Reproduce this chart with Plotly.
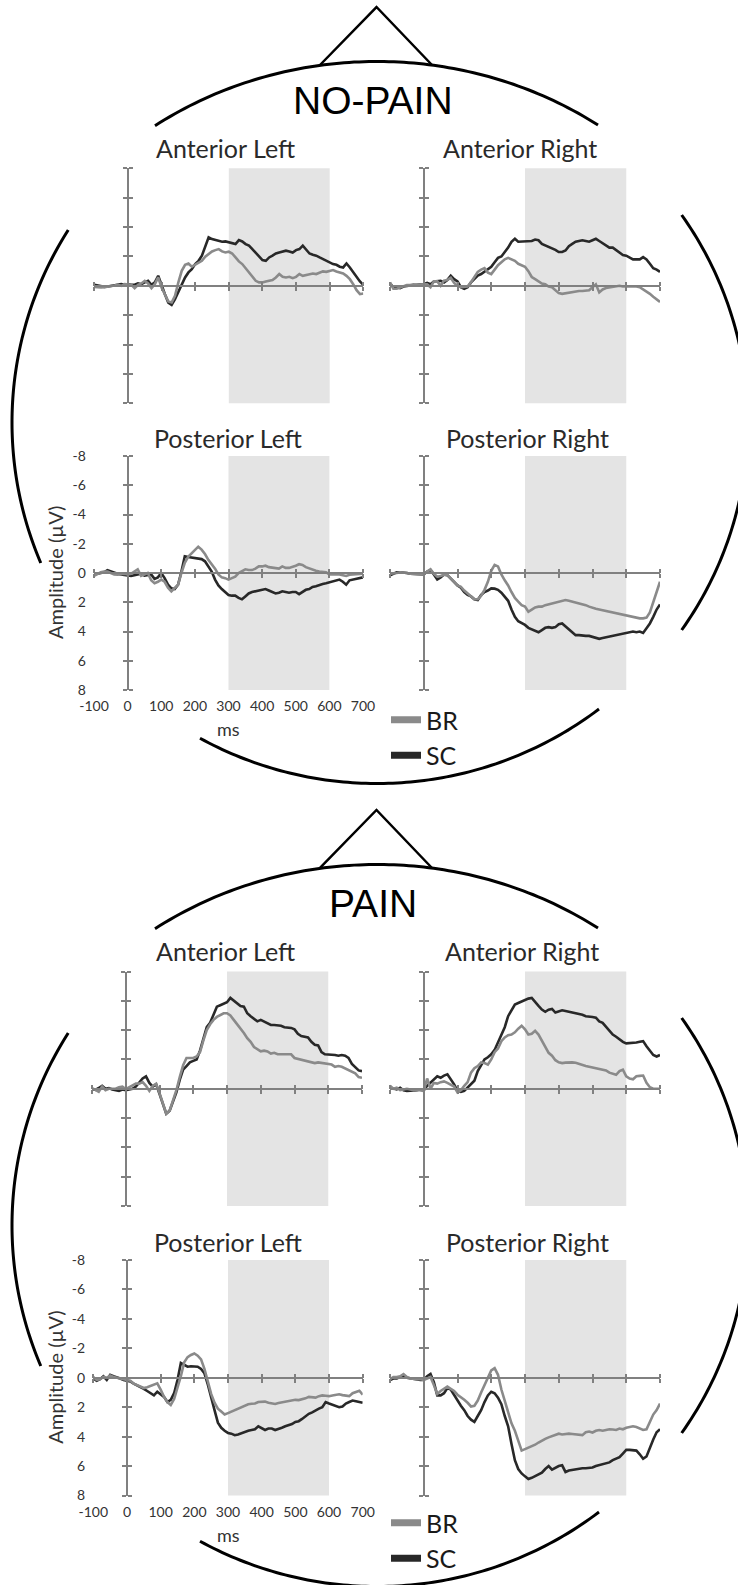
import numpy as np
import plotly.graph_objects as go

W, H = 738, 1585

# ---------------- data ----------------
T = list(range(-100, 701, 10))  # ms

X_TICKS = [-100, 0, 100, 200, 300, 400, 500, 600, 700]
X_TICKTEXT = ["-100", "0", "100", "200", "300", "400", "500", "600", "700"]
Y_TICKS = [-8, -6, -4, -2, 0, 2, 4, 6, 8]
Y_TICKTEXT = ["-8", "-6", "-4", "-2", "0", "2", "4", "6", "8"]
WINDOW = [300, 600]
SERIES = ["BR", "SC"]
CONDITIONS = ["NO-PAIN", "PAIN"]
REGIONS = ["Anterior Left", "Anterior Right", "Posterior Left", "Posterior Right"]

NP_AL_SC = [-0.07,-0.02,0.05,0.07,0.05,0.02,-0.02,-0.07,-0.11,-0.07,
            -0.11,-0.07,-0.07,-0.16,-0.11,-0.23,-0.34,-0.07,-0.23,-0.68,
            0.0,0.57,1.14,1.3,0.91,0.39,-0.11,-0.57,-0.91,-1.14,
            -1.48,-1.7,-2.05,-2.73,-3.3,-3.18,-3.11,-3.07,-3.0,-3.02,
            -2.95,-2.93,-2.84,-3.11,-3.02,-2.84,-2.73,-2.5,-2.27,-1.98,
            -1.75,-1.7,-1.93,-2.05,-2.2,-2.27,-2.34,-2.39,-2.34,-2.27,
            -2.43,-2.5,-2.73,-2.5,-2.2,-2.11,-2.05,-1.93,-1.82,-1.7,
            -1.59,-1.48,-1.43,-1.3,-1.25,-1.52,-1.25,-0.91,-0.57,-0.3,
            -0.07]
NP_AL_BR = [0.07,0.11,0.11,0.09,0.07,0.02,-0.02,-0.07,0.0,-0.11,
            -0.07,-0.07,0.16,-0.07,-0.16,-0.34,-0.16,0.16,-0.11,-0.57,
            0.11,0.61,1.07,1.14,0.68,-0.23,-1.02,-1.43,-1.52,-1.3,
            -1.43,-1.59,-1.7,-1.98,-2.16,-2.34,-2.43,-2.5,-2.34,-2.27,
            -2.32,-2.2,-1.93,-1.66,-1.48,-1.2,-0.91,-0.57,-0.34,-0.23,
            -0.23,-0.3,-0.34,-0.39,-0.57,-0.8,-0.61,-0.57,-0.61,-0.52,
            -0.61,-0.8,-0.68,-0.75,-0.8,-0.84,-0.8,-0.91,-0.98,-0.95,
            -1.02,-1.07,-0.98,-0.91,-0.84,-0.68,-0.45,-0.11,0.3,0.57,
            0.52]
NP_AR_SC = [-0.16,0.1,0.1,0.16,0.05,0.0,-0.05,-0.05,-0.07,-0.1,
            -0.11,-0.2,-0.11,-0.3,-0.3,-0.34,-0.23,-0.4,-0.68,-0.45,
            -0.3,0.1,0.2,0.1,-0.23,-0.5,-0.7,-0.8,-0.95,-1.1,
            -1.3,-1.6,-1.9,-2.0,-2.3,-2.6,-3.0,-3.2,-3.0,-3.0,
            -3.0,-3.0,-3.05,-3.15,-3.1,-2.85,-2.75,-2.7,-2.55,-2.45,
            -2.3,-2.3,-2.4,-2.7,-2.85,-3.0,-3.05,-3.1,-3.05,-3.0,
            -3.1,-3.2,-3.05,-2.9,-2.7,-2.6,-2.6,-2.45,-2.3,-2.1,
            -2.05,-1.9,-1.8,-1.8,-1.8,-1.95,-1.8,-1.5,-1.2,-1.1,
            -0.95]
NP_AR_BR = [-0.23,0.2,0.2,0.1,0.0,-0.05,-0.05,-0.1,-0.05,-0.1,
            -0.1,-0.1,0.1,-0.3,-0.3,0.0,-0.35,-0.4,-0.55,-0.2,
            0.0,0.1,0.1,0.05,-0.25,-0.6,-0.95,-1.1,-1.2,-0.9,
            -0.8,-1.1,-1.4,-1.6,-1.8,-1.9,-1.8,-1.7,-1.5,-1.4,
            -1.3,-1.0,-0.6,-0.45,-0.3,-0.15,-0.1,0.05,0.1,0.3,
            0.5,0.55,0.5,0.45,0.4,0.4,0.35,0.35,0.3,0.3,
            0.1,-0.1,0.45,0.25,0.15,0.1,0.1,0.0,0.0,0.05,
            0.05,0.0,0.0,0.05,0.1,0.25,0.35,0.55,0.75,0.9,
            1.1]
NP_PL_SC = [0.1,0.05,0.0,-0.05,-0.2,-0.1,0.0,0.05,0.1,0.15,
            0.18,0.2,0.15,0.1,0.05,0.18,0.12,0.1,0.4,0.3,
            0.0,0.35,0.8,1.05,1.1,0.8,-0.1,-1.15,-1.1,-1.05,
            -1.05,-1.0,-0.95,-0.8,-0.4,-0.1,0.45,0.85,1.1,1.3,
            1.5,1.55,1.55,1.7,1.8,1.6,1.4,1.3,1.25,1.2,
            1.1,1.1,1.2,1.3,1.4,1.35,1.25,1.3,1.35,1.3,
            1.3,1.45,1.3,1.15,1.1,0.95,0.9,0.8,0.75,0.7,
            0.65,0.6,0.55,0.45,0.6,0.8,0.5,0.45,0.4,0.35,
            0.3]
NP_PL_BR = [0.2,0.05,-0.05,-0.1,-0.1,0.0,0.1,0.12,0.1,0.05,
            0.1,0.05,-0.1,-0.25,0.2,0.1,0.0,0.5,0.7,0.6,
            0.45,0.6,1.0,1.25,1.05,0.8,0.0,-0.7,-1.1,-1.35,
            -1.6,-1.8,-1.6,-1.3,-0.9,-0.6,-0.3,0.1,0.3,0.35,
            0.45,0.35,0.25,0.0,-0.15,-0.25,-0.2,-0.2,-0.3,-0.45,
            -0.45,-0.5,-0.4,-0.35,-0.3,-0.3,-0.45,-0.35,-0.35,-0.4,
            -0.5,-0.6,-0.55,-0.4,-0.3,-0.25,-0.15,-0.1,-0.05,-0.05,
            0.1,0.1,0.05,0.1,0.15,0.2,0.12,0.1,0.1,0.1,
            0.05]
NP_PR_SC = [0.15,0.05,-0.05,-0.05,-0.05,0.0,0.05,0.05,0.1,0.1,
            0.1,-0.1,-0.2,0.1,0.45,0.3,0.1,0.15,0.4,0.6,
            0.85,1.0,1.3,1.5,1.6,1.8,1.85,1.5,1.3,1.2,
            1.05,1.07,1.15,1.35,1.6,1.9,2.5,3.0,3.3,3.4,
            3.55,3.75,3.85,3.95,4.05,3.9,3.75,3.7,3.75,3.7,
            3.5,3.45,3.65,3.9,4.1,4.25,4.25,4.3,4.3,4.3,
            4.35,4.45,4.5,4.45,4.4,4.35,4.3,4.3,4.25,4.2,
            4.1,4.05,4.0,4.05,4.0,4.1,3.8,3.45,3.0,2.5,
            2.15]
NP_PR_BR = [0.05,0.05,0.0,-0.05,-0.05,0.0,0.05,0.07,0.1,0.1,
            0.1,-0.1,-0.25,0.05,0.25,0.2,0.12,0.15,0.35,0.6,
            0.85,0.95,1.2,1.4,1.55,1.8,1.8,1.55,1.15,0.6,
            -0.15,-0.55,-0.45,0.1,0.5,0.85,1.3,1.7,1.95,2.2,
            2.3,2.65,2.5,2.35,2.3,2.3,2.2,2.15,2.05,2.0,
            1.95,1.9,1.85,1.9,1.95,2.0,2.05,2.1,2.2,2.3,
            2.4,2.45,2.5,2.55,2.65,2.7,2.75,2.75,2.85,2.9,
            2.95,3.0,3.05,3.05,3.1,3.1,3.05,2.7,2.0,1.3,
            0.6]
P_AL_SC = [0.02,0.07,-0.05,-0.2,0.0,-0.05,0.05,0.1,0.15,0.05,
           0.1,0.05,0.0,-0.15,-0.45,-0.7,-0.85,-0.4,-0.15,-0.3,
           0.35,1.0,1.7,1.5,0.85,0.25,-0.6,-1.3,-1.55,-1.8,
           -1.9,-2.0,-2.6,-3.4,-4.2,-4.5,-5.1,-5.6,-5.7,-5.8,
           -5.9,-6.2,-6.0,-5.8,-5.65,-5.6,-5.15,-4.95,-4.8,-4.6,
           -4.7,-4.6,-4.45,-4.35,-4.35,-4.35,-4.3,-4.2,-4.2,-4.15,
           -4.05,-3.75,-3.6,-3.55,-3.5,-3.2,-3.0,-2.95,-2.5,-2.35,
           -2.35,-2.35,-2.3,-2.25,-2.3,-2.25,-2.1,-1.7,-1.5,-1.25,
           -1.2]
P_AL_BR = [-0.05,0.1,0.2,-0.15,0.1,0.0,0.02,0.0,-0.1,-0.15,
           0.02,-0.1,-0.2,-0.35,-0.35,-0.45,-0.2,0.15,-0.2,-0.35,
           0.3,1.0,1.7,1.5,0.85,0.1,-0.8,-1.6,-2.1,-2.1,
           -2.1,-2.2,-2.5,-3.3,-4.0,-4.4,-4.7,-4.9,-5.0,-5.15,
           -5.15,-5.0,-4.7,-4.4,-4.15,-3.8,-3.45,-3.2,-2.85,-2.7,
           -2.55,-2.6,-2.55,-2.4,-2.45,-2.35,-2.35,-2.3,-2.35,-2.35,
           -2.1,-2.05,-2.0,-1.95,-1.9,-1.85,-1.75,-1.8,-1.75,-1.75,
           -1.65,-1.65,-1.5,-1.55,-1.5,-1.4,-1.3,-1.2,-1.05,-0.8,
           -0.75]
P_AR_SC = [-0.07,0.0,0.05,-0.07,0.1,0.15,0.15,0.1,0.1,0.05,
           0.1,-0.2,-0.4,-0.6,-0.85,-0.75,-0.9,-0.98,-0.68,-0.3,
           0.15,0.22,0.15,-0.1,-0.3,-0.55,-1.2,-1.6,-2.0,-2.15,
           -2.35,-2.65,-3.15,-3.7,-4.2,-4.95,-5.4,-5.75,-5.85,-5.95,
           -6.1,-6.15,-6.2,-5.9,-5.65,-5.4,-5.25,-5.4,-5.45,-5.2,
           -5.25,-5.35,-5.3,-5.25,-5.25,-5.2,-5.15,-5.05,-4.95,-4.95,
           -4.9,-4.85,-4.6,-4.5,-4.25,-3.95,-3.7,-3.55,-3.35,-3.2,
           -3.1,-3.1,-3.15,-3.15,-3.2,-3.25,-2.9,-2.6,-2.3,-2.2,
           -2.3]
P_AR_BR = [-0.2,0.0,-0.07,0.1,0.05,0.0,0.05,0.1,0.07,0.1,
           0.15,-0.7,0.0,-0.4,-0.35,-0.45,-0.5,-0.4,-0.3,-0.15,
           0.25,0.1,-0.2,-0.45,-1.1,-1.4,-1.55,-1.8,-1.75,-1.65,
           -2.0,-2.5,-2.75,-3.25,-3.5,-3.65,-3.7,-3.85,-4.1,-4.3,
           -4.05,-3.7,-3.75,-3.95,-3.7,-3.25,-2.8,-2.45,-2.25,-1.95,
           -1.8,-1.75,-1.78,-1.8,-1.8,-1.78,-1.7,-1.6,-1.55,-1.5,
           -1.45,-1.4,-1.38,-1.35,-1.25,-1.1,-1.05,-0.95,-1.2,-1.3,
           -0.85,-0.7,-0.65,-0.85,-0.88,-0.9,-0.4,-0.1,0.0,0.0,
           0.0]
P_PL_SC = [0.05,0.2,0.1,-0.1,0.15,-0.2,-0.1,-0.05,0.05,0.15,
           0.2,0.25,0.4,0.5,0.6,0.75,0.9,1.05,1.2,0.95,
           1.1,1.3,1.65,1.5,1.05,0.15,-1.0,-0.85,-0.75,-0.78,
           -0.75,-0.75,-0.6,-0.3,0.45,1.4,2.2,3.05,3.4,3.6,
           3.75,3.8,3.9,3.85,3.75,3.65,3.6,3.55,3.5,3.3,
           3.45,3.55,3.45,3.45,3.55,3.5,3.4,3.3,3.25,3.15,
           3.0,2.95,2.8,2.6,2.45,2.35,2.2,2.1,2.0,1.65,
           1.75,1.85,1.95,2.0,1.95,1.75,1.65,1.55,1.6,1.65,
           1.7]
P_PL_BR = [-0.05,0.15,0.1,-0.05,0.0,-0.15,-0.05,0.0,0.05,0.1,
           0.15,0.2,0.4,0.5,0.65,0.7,0.65,0.55,0.45,0.38,
           0.8,1.3,1.65,1.85,1.45,0.7,-0.1,-1.05,-1.4,-1.55,
           -1.65,-1.5,-1.25,-0.6,0.35,1.1,1.7,2.1,2.3,2.5,
           2.4,2.3,2.2,2.05,1.95,1.85,1.8,1.77,1.75,1.65,
           1.62,1.62,1.7,1.75,1.78,1.72,1.68,1.65,1.6,1.52,
           1.5,1.52,1.48,1.4,1.3,1.33,1.35,1.25,1.2,1.22,
           1.25,1.2,1.18,1.12,1.18,1.2,1.25,1.05,0.95,0.88,
           1.15]
P_PR_SC = [0.15,0.05,0.05,-0.05,-0.15,0.0,0.05,0.1,0.1,0.15,
           0.15,-0.1,-0.25,0.3,1.2,1.2,1.05,0.7,0.8,1.2,
           1.6,1.9,2.2,2.6,2.85,3.0,2.6,2.2,1.65,1.2,
           0.95,1.05,1.35,1.8,2.6,3.3,4.5,5.6,6.2,6.5,
           6.7,6.88,6.8,6.7,6.55,6.45,6.2,6.0,6.25,6.1,
           6.0,5.95,6.4,6.3,6.25,6.23,6.2,6.15,6.15,6.12,
           6.1,6.0,5.95,5.9,5.85,5.75,5.6,5.5,5.4,5.15,
           4.9,4.9,4.9,4.95,5.2,5.5,5.35,4.7,4.2,3.7,
           3.5]
P_PR_BR = [0.1,-0.05,-0.05,-0.1,-0.25,-0.05,0.05,0.1,0.1,0.1,
           0.15,0.05,-0.05,0.5,1.1,0.9,0.75,0.6,0.75,0.9,
           1.15,1.3,1.5,1.7,1.95,1.9,1.55,1.0,0.5,0.0,
           -0.5,-0.65,-0.2,0.8,1.55,2.25,3.1,3.6,4.25,4.95,
           4.85,4.75,4.7,4.55,4.4,4.25,4.15,4.05,3.95,3.85,
           3.8,3.85,3.8,3.8,3.82,3.85,3.88,3.9,3.7,3.65,
           3.72,3.6,3.55,3.6,3.55,3.5,3.52,3.55,3.45,3.5,
           3.4,3.35,3.3,3.35,3.45,3.55,3.5,3.05,2.5,2.2,
           1.75]

# ---------------- layout geometry (pixels) ----------------
HEAD_DY = 803.0
GRAY_AX = "#808080"
COL = {"BR": "#8a8a8a", "SC": "#282828"}
TITLE_FONT = dict(family="Lato", size=25, color="#2a2a2a")
TICK_FONT = dict(family="Lato", size=14, color="#333333")
XTICK_FONT = dict(family="Lato", size=14, color="#333333")


def px(x):
    return x / W


def py(y):
    return 1 - y / H


def ax_id(letter, n):
    return letter if n == 1 else f"{letter}{n}"


# (condition index, region, BR, SC, x-span px, y-span px, title centre px)
panels = [
    (0, "Anterior Left", NP_AL_BR, NP_AL_SC, (94.3, 363.3), (168.3, 403.3), (225.5, 148)),
    (0, "Anterior Right", NP_AR_BR, NP_AR_SC, (390.0, 660.0), (168.3, 403.3), (520.0, 148)),
    (0, "Posterior Left", NP_PL_BR, NP_PL_SC, (94.0, 363.0), (456.0, 690.0), (228.0, 438)),
    (0, "Posterior Right", NP_PR_BR, NP_PR_SC, (390.0, 660.0), (456.0, 690.0), (527.0, 438)),
    (1, "Anterior Left", P_AL_BR, P_AL_SC, (92.0, 362.0), (971.5, 1206.0), (225.0, 951)),
    (1, "Anterior Right", P_AR_BR, P_AR_SC, (390.0, 660.0), (971.5, 1206.0), (522.0, 951)),
    (1, "Posterior Left", P_PL_BR, P_PL_SC, (93.3, 362.7), (1260.0, 1495.5), (228.0, 1242)),
    (1, "Posterior Right", P_PR_BR, P_PR_SC, (390.0, 660.0), (1260.0, 1495.5), (527.0, 1242)),
]

fig = go.Figure()
layout_axes = {}
shapes = []
annotations = []

for i, (cond, region, br, sc, (x0, x1), (y0, y1), (tx, ty)) in enumerate(panels):
    a = 2 * i + 1
    b = 2 * i + 2
    xa, ya = ax_id("x", a), ax_id("y", a)
    xb, yb = ax_id("x", b), ax_id("y", b)
    kxa = "xaxis" if a == 1 else f"xaxis{a}"
    kya = "yaxis" if a == 1 else f"yaxis{a}"
    xdom = [px(x0), px(x1)]
    ydom = [py(y1), py(y0)]
    zero_y = py((y0 + y1) / 2)                 # y = 0 line
    zero_x = px(x0 + (x1 - x0) * 100 / 800)    # t = 0 line
    labels = region == "Posterior Left"

    common = dict(showgrid=False, zeroline=False, fixedrange=True,
                  linecolor=GRAY_AX, linewidth=2, tickcolor=GRAY_AX,
                  tickwidth=2, ticklen=4, ticks="outside", tickmode="array",
                  tickfont=TICK_FONT)
    layout_axes[kxa] = dict(common, domain=xdom, range=[-100, 700],
                            anchor="free", position=zero_y, side="bottom",
                            showline=True, tickvals=X_TICKS, ticktext=X_TICKTEXT,
                            tickfont=XTICK_FONT, showticklabels=labels,
                            ticklabelstandoff=int(round((y1 - y0) / 2 - 1)) if labels else 0)
    layout_axes[kya] = dict(common, domain=ydom, range=[8, -8],
                            anchor="free", position=zero_x, side="left",
                            showline=True, tickvals=Y_TICKS, ticktext=Y_TICKTEXT,
                            showticklabels=labels,
                            ticklabelstandoff=34 if labels else 0)
    # second set of axes gives the ticks that cross the axis lines
    layout_axes[f"xaxis{b}"] = dict(common, domain=xdom, range=[-100, 700],
                                    overlaying=xa, anchor="free", position=zero_y,
                                    side="top", showline=False, tickvals=X_TICKS,
                                    showticklabels=False)
    layout_axes[f"yaxis{b}"] = dict(common, domain=ydom, range=[8, -8],
                                    overlaying=ya, anchor="free", position=zero_x,
                                    side="right", showline=False, tickvals=Y_TICKS,
                                    showticklabels=False)

    fig.add_trace(go.Scatter(x=[None], y=[None], xaxis=xb, yaxis=yb,
                             showlegend=False, hoverinfo="skip"))
    for name, vals in (("SC", sc), ("BR", br)):
        fig.add_trace(go.Scatter(x=T, y=vals, mode="lines", name=name,
                                 xaxis=xa, yaxis=ya, showlegend=False,
                                 line=dict(color=COL[name], width=2.6)))

    shapes.append(dict(type="rect", xref=xa, yref=f"{ya} domain",
                       x0=WINDOW[0], x1=WINDOW[1], y0=0, y1=1,
                       fillcolor="#e4e4e4", line=dict(width=0), layer="below"))
    annotations.append(dict(text=region, x=px(tx), y=py(ty), xref="paper", yref="paper",
                            showarrow=False, xanchor="center", yanchor="middle",
                            font=TITLE_FONT))
    if labels:
        annotations.append(dict(text="ms", x=px((x0 + x1) / 2), y=py(y1 + 39),
                                xref="paper", yref="paper", showarrow=False,
                                xanchor="center", yanchor="middle",
                                font=dict(family="Lato", size=18, color="#333333")))
        annotations.append(dict(text="Amplitude (µV)", x=px(55), y=py((y0 + y1) / 2),
                                xref="paper", yref="paper", showarrow=False,
                                textangle=-90, xanchor="center", yanchor="middle",
                                font=dict(family="Lato", size=20, color="#333333")))

# legend-only entries (one legend per head)
for k, leg in enumerate(["legend", "legend2"]):
    for name in SERIES:
        fig.add_trace(go.Scatter(x=[None], y=[None], mode="lines", name=name,
                                 xaxis="x", yaxis="y", legend=leg,
                                 line=dict(color=COL[name], width=7)))


# ---------------- head outlines ----------------
def path_from(xs, ys):
    pts = [f"{px(x):.5f},{py(y):.5f}" for x, y in zip(xs, ys)]
    return "M" + " L".join(pts)


def head_shapes(dy):
    cx, cy, rx, ry, rx_top = 377.0, 422.5 + dy, 365.0, 361.0, 390.0
    cx_right = 383.0
    out = []
    xs = np.linspace(155, 598, 90)
    ys = cy - ry * np.sqrt(1 - ((xs - cx) / rx_top) ** 2)
    out.append(path_from(xs, ys))
    xs = np.linspace(200, 599, 90)
    ys = cy + ry * np.sqrt(1 - ((xs - cx) / rx) ** 2)
    out.append(path_from(xs, ys))
    ys = np.linspace(230 + dy, 563 + dy, 90)
    xs = cx - rx * np.sqrt(1 - ((ys - cy) / ry) ** 2)
    out.append(path_from(xs, ys))
    ys = np.linspace(215 + dy, 630 + dy, 90)
    xs = cx_right + rx * np.sqrt(1 - ((ys - cy) / ry) ** 2)
    out.append(path_from(xs, ys))
    res = [dict(type="path", xref="paper", yref="paper", path=p,
                line=dict(color="black", width=3), layer="above") for p in out]
    tri = path_from([320, 376.5, 432], [65 + dy, 7 + dy, 65 + dy])
    res.append(dict(type="path", xref="paper", yref="paper", path=tri,
                    line=dict(color="black", width=2.5), layer="above"))
    return res


for k, cond in enumerate(CONDITIONS):
    dy = HEAD_DY * k
    shapes.extend(head_shapes(dy))
    annotations.append(dict(text=cond, x=px(373), y=py(100 + dy), xref="paper",
                            yref="paper", showarrow=False, xanchor="center",
                            yanchor="middle",
                            font=dict(family="Liberation Sans", size=39, color="black")))

legend_common = dict(xanchor="left", yanchor="top", bgcolor="rgba(0,0,0,0)",
                     borderwidth=0, itemwidth=30, traceorder="normal",
                     font=dict(family="Lato", size=25, color="#1a1a1a"))

fig.update_layout(
    width=W, height=H,
    margin=dict(l=0, r=0, t=0, b=0, pad=0, autoexpand=False),
    paper_bgcolor="white", plot_bgcolor="rgba(0,0,0,0)",
    showlegend=True,
    legend=dict(legend_common, x=px(386), y=py(697)),
    legend2=dict(legend_common, x=px(386), y=py(697 + HEAD_DY)),
    shapes=shapes, annotations=annotations,
    **layout_axes,
)

fig.write_html("out.html",
               config={"displayModeBar": False, "staticPlot": True},
               post_script="document.body.style.margin='0px';"
                           "document.body.style.overflow='hidden';")
